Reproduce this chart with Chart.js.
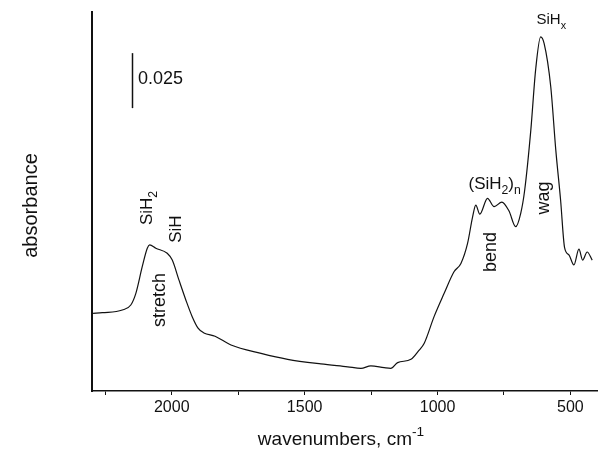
<!DOCTYPE html>
<html>
<head>
<meta charset="utf-8">
<script src="https://cdn.jsdelivr.net/npm/chart.js@4/dist/chart.umd.min.js"></script>
<style>
  html, body { margin: 0; padding: 0; background: #fff; }
  #wrap { width: 614px; height: 455px; }
</style>
</head>
<body>
<div id="wrap"><canvas id="spectrum"></canvas></div>
<script>
// IR spectrum (wavenumber in cm-1, absorbance)
const wavenumbers = [2296, 2261, 2186, 2154, 2135, 2111, 2092, 2083, 2060, 2017, 1998, 1973, 1947, 1923, 1901, 1879, 1837, 1777, 1664, 1564, 1439, 1338, 1288, 1251, 1201, 1176, 1150, 1100, 1069, 1050, 1013, 975, 938, 912, 887, 868, 856, 841, 812, 787, 758, 731, 706, 687, 672, 649, 631, 612, 599, 574, 555, 537, 522, 505, 487, 468, 454, 437, 418];
const absorbance = [0.0353, 0.0356, 0.0368, 0.0391, 0.0444, 0.0565, 0.0649, 0.0664, 0.0649, 0.0626, 0.0595, 0.0505, 0.0414, 0.0338, 0.0286, 0.0264, 0.0249, 0.0209, 0.0171, 0.0144, 0.0123, 0.0110, 0.0103, 0.0114, 0.0106, 0.0103, 0.0129, 0.0144, 0.0186, 0.0217, 0.0338, 0.0444, 0.0542, 0.0580, 0.0671, 0.0792, 0.0845, 0.0804, 0.0876, 0.0838, 0.0859, 0.0818, 0.0747, 0.0808, 0.0914, 0.1186, 0.1459, 0.1610, 0.1580, 0.1383, 0.1095, 0.0868, 0.0652, 0.0618, 0.0573, 0.0645, 0.0595, 0.0632, 0.0595];

const xTicks = [2250, 2000, 1750, 1500, 1250, 1000, 750, 500];
const xLabelled = [2000, 1500, 1000, 500];

const barSize = 0.025;
const barAt = { x: 2150, y: 0.1286 };

// band labels, anchored in data coordinates
const bandLabels = [
    { parts: [['SiH'], ['2', 'sub']], x: 2097, y: 0.0832, rotate: true, size: 17 },
    { parts: [['SiH']], x: 1988, y: 0.0736, rotate: true, size: 17 },
    { parts: [['stretch']], x: 2051, y: 0.0414, rotate: true, size: 18 },
    { parts: [['(SiH'], ['2', 'sub'], [')'], ['n', 'sub']], x: 785, y: 0.0945, rotate: false, size: 17 },
    { parts: [['bend']], x: 803, y: 0.0632, rotate: true, size: 18 },
    { parts: [['wag']], x: 604, y: 0.0877, rotate: true, size: 18 },
    { parts: [['SiH'], ['x', 'sub']], x: 572, y: 0.1691, rotate: false, size: 15 },
    { parts: [['0.025']], x: 2042, y: 0.1423, rotate: false, size: 18 },
];

const FONT = '"Liberation Sans", Arial, sans-serif';

function drawParts(ctx, parts, size) {
    let total = 0;
    const widths = parts.map(([t, kind]) => {
        ctx.font = `${kind ? size * 0.72 : size}px ${FONT}`;
        const w = ctx.measureText(t).width;
        total += w;
        return w;
    });
    let x = -total / 2;
    const base = size * 0.36;
    parts.forEach(([t, kind], i) => {
        ctx.font = `${kind ? size * 0.72 : size}px ${FONT}`;
        let y = base;
        if (kind === 'sub') y += size * 0.3;
        if (kind === 'sup') y -= size * 0.45;
        ctx.fillText(t, x, y);
        x += widths[i];
    });
}

const overlay = {
    id: 'overlay',
    afterDraw(chart) {
        const { ctx, scales: { x, y }, chartArea } = chart;
        ctx.save();
        ctx.fillStyle = '#111';
        ctx.textAlign = 'left';
        ctx.textBaseline = 'alphabetic';

        // scale bar
        ctx.strokeStyle = '#111';
        ctx.lineWidth = 1.5;
        ctx.beginPath();
        const bx = Math.round(x.getPixelForValue(barAt.x)) + 0.5;
        ctx.moveTo(bx, y.getPixelForValue(barAt.y));
        ctx.lineTo(bx, y.getPixelForValue(barAt.y + barSize));
        ctx.stroke();

        bandLabels.forEach((lab) => {
            ctx.save();
            ctx.translate(x.getPixelForValue(lab.x), y.getPixelForValue(lab.y));
            if (lab.rotate) ctx.rotate(-Math.PI / 2);
            drawParts(ctx, lab.parts, lab.size);
            ctx.restore();
        });

        // axis titles
        ctx.save();
        ctx.translate(30, (chartArea.top + chartArea.bottom) / 2 + 4);
        ctx.rotate(-Math.PI / 2);
        drawParts(ctx, [['absorbance']], 20);
        ctx.restore();

        ctx.save();
        ctx.translate(341, 438);
        drawParts(ctx, [['wavenumbers, cm'], ['-1', 'sup']], 19);
        ctx.restore();

        ctx.restore();
    },
};

new Chart(document.getElementById('spectrum'), {
    type: 'line',
    data: {
        datasets: [{
            data: wavenumbers.map((w, i) => ({ x: w, y: absorbance[i] })),
            borderColor: '#111',
            borderWidth: 1.2,
            pointRadius: 0,
            fill: false,
            cubicInterpolationMode: 'monotone',
        }],
    },
    options: {
        responsive: true,
        maintainAspectRatio: false,
        animation: false,
        layout: { padding: { top: 12, right: 17, left: 0, bottom: 0 } },
        plugins: { legend: { display: false }, tooltip: { enabled: false } },
        scales: {
            x: {
                type: 'linear',
                reverse: true,
                min: 400,
                max: 2300,
                afterBuildTicks: (scale) => { scale.ticks = xTicks.map((v) => ({ value: v })); },
                afterFit: (scale) => { scale.height = 64; },
                ticks: {
                    autoSkip: false,
                    maxRotation: 0,
                    padding: 3,
                    color: '#111',
                    font: { family: FONT, size: 16 },
                    callback: (v) => (xLabelled.includes(v) ? String(v) : ''),
                },
                grid: { drawOnChartArea: false, drawTicks: true, tickLength: 4, tickColor: '#111', color: '#111' },
                border: { color: '#111', width: 1.5 },
            },
            y: {
                min: 0,
                max: 0.1723,
                afterFit: (scale) => { scale.width = 92; },
                ticks: { display: false },
                grid: { display: false },
                border: { color: '#111', width: 2 },
            },
        },
    },
    plugins: [overlay],
});
</script>
</body>
</html>
